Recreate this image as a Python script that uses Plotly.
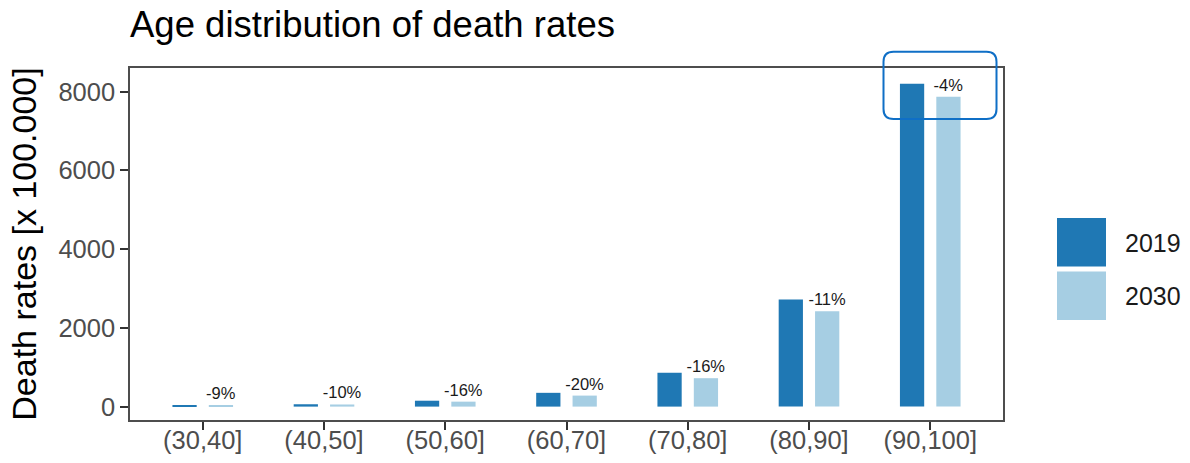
import plotly.graph_objects as go

categories = ["(30,40]", "(40,50]", "(50,60]", "(60,70]", "(70,80]", "(80,90]", "(90,100]"]
rates_2019 = [20, 60, 150, 350, 860, 2720, 8200]
rates_2030 = [18, 54, 126, 280, 722, 2420, 7870]
change_labels = ["-9%", "-10%", "-16%", "-20%", "-16%", "-11%", "-4%"]
y_ticks = [0, 2000, 4000, 6000, 8000]

C2019 = "#1f78b4"
C2030 = "#a6cee3"
FONT = "Liberation Sans, Arial, sans-serif"

W, H = 1190, 463
# plot area in screenshot pixels
PL, PR, PT, PB = 130, 1003, 68, 420
L, R, T, B = PL, W - PR, PT, H - PB
pw, ph = PR - PL, PB - PT

fig = go.Figure()
fig.add_trace(go.Bar(x=categories, y=rates_2019, name="2019", marker=dict(color=C2019, line=dict(width=0)),
                     showlegend=False))
fig.add_trace(go.Bar(x=categories, y=rates_2030, name="2030", marker=dict(color=C2030, line=dict(width=0)),
                     text=change_labels, textposition="outside", constraintext="none", cliponaxis=False,
                     textfont=dict(size=16.5, color="#1a1a1a", family=FONT), showlegend=False))


def px(x):
    return (x - PL) / pw


def py(y):
    return (PB - y) / ph


# rounded highlight box
x0, x1, y0, y1 = px(883.5), px(996.5), py(119), py(51.7)
rx, ry = 10 / pw, 10 / ph
path = (f"M {x0+rx},{y1} L {x1-rx},{y1} Q {x1},{y1} {x1},{y1-ry} "
        f"L {x1},{y0+ry} Q {x1},{y0} {x1-rx},{y0} L {x0+rx},{y0} "
        f"Q {x0},{y0} {x0},{y0+ry} L {x0},{y1-ry} Q {x0},{y1} {x0+rx},{y1} Z")

shapes = [
    dict(type="path", xref="paper", yref="paper", path=path, line=dict(color="#0f6fc6", width=2)),
    dict(type="rect", xref="paper", yref="paper", x0=px(1057), x1=px(1106), y0=py(266.5), y1=py(218),
         fillcolor=C2019, line=dict(width=0)),
    dict(type="rect", xref="paper", yref="paper", x0=px(1057), x1=px(1106), y0=py(320), y1=py(271.5),
         fillcolor=C2030, line=dict(width=0)),
]
annotations = [
    dict(text="2019", xref="paper", yref="paper", x=px(1123), y=py(243), xanchor="left", yanchor="middle",
         showarrow=False, font=dict(size=25, color="#1a1a1a", family=FONT)),
    dict(text="2030", xref="paper", yref="paper", x=px(1123), y=py(296), xanchor="left", yanchor="middle",
         showarrow=False, font=dict(size=25, color="#1a1a1a", family=FONT)),
]

fig.update_layout(
    width=W, height=H,
    margin=dict(l=L, r=R, t=T, b=B, autoexpand=False),
    paper_bgcolor="white", plot_bgcolor="white",
    barmode="group", bargap=0.4, bargroupgap=1/3,
    font=dict(family=FONT),
    title=dict(text="Age distribution of death rates", x=PL / W, xanchor="left",
               y=1 - 24 / H, yanchor="middle", yref="container",
               font=dict(size=36.5, color="#000000", family=FONT)),
    shapes=shapes, annotations=annotations,
)
fig.update_xaxes(range=[-0.6, 6.6], automargin=False, showline=True, mirror=True, linecolor="#4d4d4d",
                 linewidth=1.5, ticks="outside", ticklen=8, tickwidth=2, tickcolor="#333333", showgrid=False,
                 ticklabelstandoff=-11,
                 tickfont=dict(size=25.5, color="#4d4d4d", family=FONT), zeroline=False)
fig.update_yaxes(range=[-340, 8600], automargin=False, tickvals=y_ticks, showline=True, mirror=True,
                 linecolor="#4d4d4d", linewidth=1.5, ticks="outside", ticklen=8, tickwidth=2,
                 tickcolor="#333333", showgrid=False, zeroline=False,
                 tickfont=dict(size=25.5, color="#4d4d4d", family=FONT),
                 title=dict(text="Death rates [x 100.000]", standoff=12,
                            font=dict(size=34, color="#000000", family=FONT)))

fig.write_html("out.html", config={"displayModeBar": False},
               post_script="document.body.style.margin='0';document.body.style.overflow='hidden';")
